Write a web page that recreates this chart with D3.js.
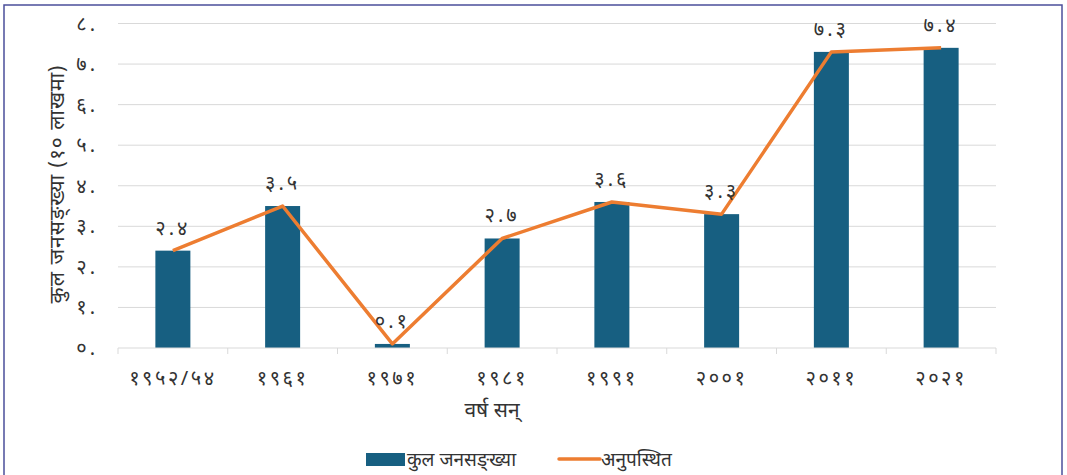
<!DOCTYPE html>
<html><head><meta charset="utf-8">
<script src="https://cdn.jsdelivr.net/npm/d3@7"></script>
<style>body{margin:0;background:#fff;} svg{display:block;font-family:"Noto Sans","DejaVu Sans",sans-serif;}</style>
</head><body>
<svg id="c" width="1067" height="475"></svg>
<script>
const categories = ["१९५२/५४","१९६१","१९७१","१९८१","१९९१","२००१","२०११","२०२१"];
const barValues = [2.4, 3.5, 0.1, 2.7, 3.6, 3.3, 7.3, 7.4];
const lineValues = [2.4, 3.5, 0.1, 2.7, 3.6, 3.3, 7.3, 7.4];
const valueLabels = ["२.४","३.५","०.१","२.७","३.६","३.३","७.३","७.४"];
const yTicks = [0,1,2,3,4,5,6,7,8];
const yTickLabels = ["०.","१.","२.","३.","४.","५.","६.","७.","८."];
const barName = "कुल जनसङ्ख्या";
const lineName = "अनुपस्थित";
const xTitle = "वर्ष सन्";
const yTitle = "कुल जनसङ्ख्या (१० लाखमा)";

const svg = d3.select("#c");
const L = 118, R = 996, T = 23.5, B = 348;
const x = d3.scaleBand().domain(categories).range([L, R]).paddingInner(0).paddingOuter(0);
const y = d3.scaleLinear().domain([0, 8]).range([B, T]);
const barW = 35;
const textCol = "#333";

// frame
svg.append("rect").attr("x",4).attr("y",5).attr("width",1058).attr("height",480)
  .attr("fill","none").attr("stroke","#4b4f9b").attr("stroke-width",1.5);

// gridlines
svg.append("g").selectAll("line").data(yTicks.slice(1)).join("line")
  .attr("x1",L).attr("x2",R).attr("y1",d=>y(d)).attr("y2",d=>y(d))
  .attr("stroke","#d9d9d9").attr("stroke-width",1);

// y tick labels
svg.append("g").selectAll("text").data(yTicks).join("text")
  .attr("x",98).attr("y",d=>y(d)).attr("dy","0.35em").attr("text-anchor","end")
  .attr("font-size",20).attr("letter-spacing","3px").attr("fill",textCol).text((d,i)=>yTickLabels[i]);

// bars
svg.append("g").selectAll("rect").data(barValues).join("rect")
  .attr("x",(d,i)=>x(categories[i]) + x.bandwidth()/2 - barW/2)
  .attr("width",barW)
  .attr("y",d=>y(d)).attr("height",d=>B - y(d))
  .attr("fill","#175f81");

// x axis
const xAxis = d3.axisBottom(x).tickSize(6).tickFormat(()=>"");
const gx = svg.append("g").attr("transform",`translate(0,${B})`).call(xAxis);
gx.select(".domain").remove();
gx.selectAll(".tick").remove();
gx.append("line").attr("x1",L).attr("x2",R).attr("y1",0).attr("y2",0).attr("stroke","#d9d9d9");
gx.selectAll(".sep").data(d3.range(categories.length+1)).join("line").attr("class","sep")
  .attr("x1",i=>L + i*x.bandwidth()).attr("x2",i=>L + i*x.bandwidth())
  .attr("y1",0).attr("y2",6).attr("stroke","#d9d9d9");
svg.append("g").selectAll("text").data(categories).join("text")
  .attr("x",d=>x(d)+x.bandwidth()/2).attr("y",378).attr("dy","0.35em")
  .attr("text-anchor","middle").attr("font-size",20).attr("fill",textCol)
  .attr("letter-spacing","2.5px").text(d=>d);

// line
const line = d3.line().x((d,i)=>x(categories[i])+x.bandwidth()/2).y(d=>y(d));
svg.append("path").datum(lineValues).attr("d",line)
  .attr("fill","none").attr("stroke","#ed7d31").attr("stroke-width",3.5).attr("stroke-linejoin","round");

// value labels
svg.append("g").selectAll("text").data(barValues).join("text")
  .attr("x",(d,i)=>x(categories[i])+x.bandwidth()/2).attr("y",d=>y(d)-23).attr("dy","0.35em")
  .attr("text-anchor","middle").attr("font-size",20).attr("fill",textCol)
  .attr("letter-spacing","3px").text((d,i)=>valueLabels[i]);

// axis titles
svg.append("text").attr("transform",`translate(57,184) rotate(-90)`)
  .attr("text-anchor","middle").attr("dy","0.35em").attr("font-size",21).attr("fill",textCol)
  .attr("letter-spacing","1px").text(yTitle);
svg.append("text").attr("x",492).attr("y",410).attr("dy","0.35em")
  .attr("text-anchor","middle").attr("font-size",21).attr("fill",textCol).text(xTitle);

// legend
const lg = svg.append("g");
lg.append("rect").attr("x",366).attr("y",453).attr("width",39).attr("height",13).attr("fill","#175f81");
lg.append("text").attr("x",407).attr("y",459).attr("dy","0.35em").attr("font-size",19).attr("fill",textCol).text(barName);
lg.append("line").attr("x1",559).attr("x2",600).attr("y1",459).attr("y2",459)
  .attr("stroke","#ed7d31").attr("stroke-width",3.5).attr("stroke-linecap","round");
lg.append("text").attr("x",601).attr("y",459).attr("dy","0.35em").attr("font-size",19).attr("fill",textCol).text(lineName);
</script>
</body></html>
